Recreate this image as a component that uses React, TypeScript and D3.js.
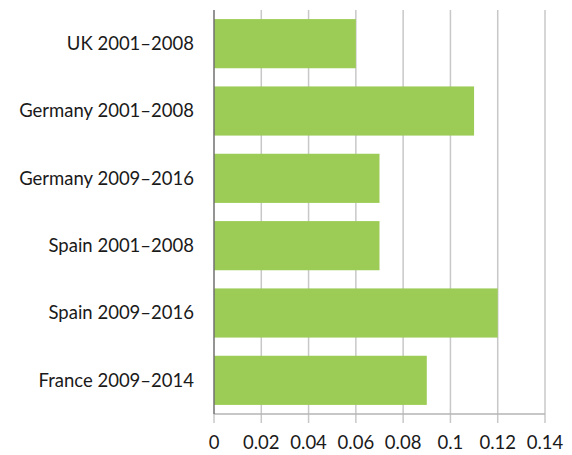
import React, { useEffect, useRef } from 'react';
import * as d3 from 'd3';

// categories top to bottom
const categories = [
  'UK 2001–2008',
  'Germany 2001–2008',
  'Germany 2009–2016',
  'Spain 2001–2008',
  'Spain 2009–2016',
  'France 2009–2014',
];
const values = [0.06, 0.11, 0.07, 0.07, 0.12, 0.09];
const ticks = [0, 0.02, 0.04, 0.06, 0.08, 0.1, 0.12, 0.14];

const width = 572;
const height = 455;
const margin = { top: 10, right: 27, bottom: 41, left: 214 };

function App() {
  const ref = useRef<SVGSVGElement>(null);

  useEffect(() => {
    const svg = d3.select(ref.current);
    svg.selectAll('*').remove();

    const x = d3.scaleLinear().domain([0, 0.14]).range([margin.left, width - margin.right]);
    const y = d3.scaleBand<string>()
      .domain(categories)
      .range([margin.top, height - margin.bottom])
      .paddingInner(0.27)
      .paddingOuter(0.135);

    const bottom = height - margin.bottom;
    const font = 'Lato, "Open Sans", sans-serif';

    // gridlines, running through the tick area
    svg.append('g')
      .selectAll('line')
      .data(ticks.slice(1))
      .join('line')
      .attr('x1', (d) => x(d))
      .attr('x2', (d) => x(d))
      .attr('y1', margin.top)
      .attr('y2', bottom + 9)
      .attr('stroke', '#c8c8c8')
      .attr('stroke-width', 1.5);

    // zero tick below axis
    svg.append('line')
      .attr('x1', x(0)).attr('x2', x(0))
      .attr('y1', bottom).attr('y2', bottom + 9)
      .attr('stroke', '#c8c8c8').attr('stroke-width', 1.5);

    // bottom axis line
    svg.append('line')
      .attr('x1', x(0)).attr('x2', x(0.14))
      .attr('y1', bottom).attr('y2', bottom)
      .attr('stroke', '#b4b4b4').attr('stroke-width', 1.5);

    // bars
    svg.append('g')
      .selectAll('rect')
      .data(values)
      .join('rect')
      .attr('x', x(0))
      .attr('y', (_, i) => y(categories[i])!)
      .attr('width', (d) => x(d) - x(0))
      .attr('height', y.bandwidth())
      .attr('fill', '#9ccc56');

    // left axis line
    svg.append('line')
      .attr('x1', x(0)).attr('x2', x(0))
      .attr('y1', margin.top).attr('y2', bottom)
      .attr('stroke', '#707070').attr('stroke-width', 1.5);

    // category labels
    svg.append('g')
      .selectAll('text')
      .data(categories)
      .join('text')
      .attr('x', margin.left - 20)
      .attr('y', (d) => y(d)! + y.bandwidth() / 2)
      .attr('dy', '0.35em')
      .attr('text-anchor', 'end')
      .attr('font-family', font)
      .attr('font-size', 18.5)
      .attr('fill', '#1a1a1a')
      .text((d) => d);

    // tick labels
    svg.append('g')
      .selectAll('text')
      .data(ticks)
      .join('text')
      .attr('x', (d) => x(d))
      .attr('y', bottom + 29)
      .attr('dy', '0.35em')
      .attr('text-anchor', 'middle')
      .attr('font-family', font)
      .attr('font-size', 18.5)
      .attr('fill', '#1a1a1a')
      .text((d) => String(d));
  }, []);

  return (
    <svg ref={ref} width={width} height={height}
      style={{ position: 'absolute', left: 0, top: 0 }}></svg>
  );
}

export default App;
